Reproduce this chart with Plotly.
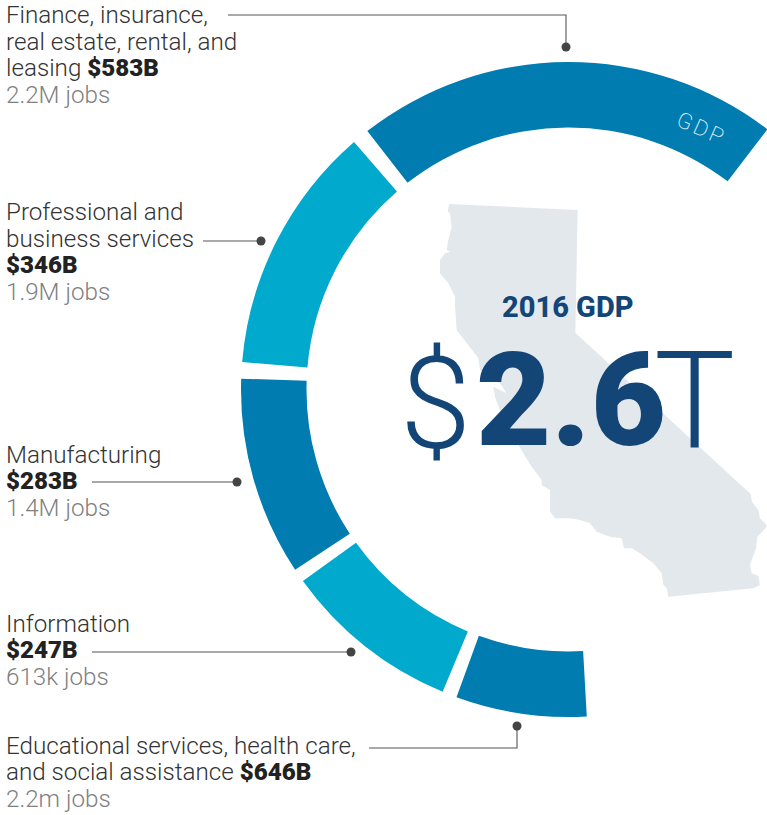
import numpy as np
import plotly.graph_objects as go

# ---- data ----
sector_names = ["Finance, insurance, real estate, rental, and leasing",
                "Educational services, health care, and social assistance",
                "Information", "Manufacturing", "Professional and business services"]
gdp_labels = ["$583B", "$646B", "$247B", "$283B", "$346B"]
jobs_labels = ["2.2M jobs", "2.2m jobs", "613k jobs", "1.4M jobs", "1.9M jobs"]
# drawn sweep of each ring segment, degrees
sweeps = [75.3, 23.2, 31.6, 35.3, 44.3]
gaps = [139.4, 2.6, 2.4, 2.9, 3.0]   # gap following each segment (clockwise)
colors = ["#017cb1", "#017cb1", "#01a9cc", "#017cb1", "#01a9cc"]
rotation_start = -37.9

ca_x = [147,533,526,1052,1056,1075,1080,1100,1097,1072,1068,1055,1050,1055,1075,1080,1060,805,800,790,785,760,720,695,672,665,630,590,570,540,510,465,450,450,425,425,395,370,345,310,285,280,320,300,275,240,235,170,165,165,145,120,120,135,150,140,145,155,150,143]
ca_y = [42,60,428,912,935,960,985,1005,1015,1040,1075,1110,1125,1150,1158,1185,1195,1220,1195,1185,1150,1120,1090,1075,1075,1045,1040,1025,1000,990,985,985,965,900,885,870,830,790,750,690,620,590,610,580,570,540,505,420,350,320,280,250,210,190,185,180,150,110,70,65]

W, H = 896, 815
CX, CY, R = 568.5, 389.5, 327.5
DARK = "#333333"
GREY = "#808080"
NAVY = "#134677"
FONT = "Roboto"

values, slice_colors = [], []
for s, g, c in zip(sweeps, gaps, colors):
    values += [s, g]
    slice_colors += [c, "rgba(0,0,0,0)"]

fig = go.Figure()

# California silhouette
fig.add_trace(go.Scatter(
    x=400 + np.array(ca_x) / 3, y=190 + np.array(ca_y) / 3,
    mode="lines", fill="toself", fillcolor="#e3e8ed",
    line=dict(color="#e3e8ed", width=0), hoverinfo="skip", showlegend=False))

# ring
fig.add_trace(go.Pie(
    values=values, sort=False, direction="clockwise", rotation=rotation_start,
    hole=262 / 327.5, textinfo="none", hoverinfo="skip", showlegend=False,
    marker=dict(colors=slice_colors, line=dict(width=0)),
    domain=dict(x=[(CX - R) / W, (CX + R) / W], y=[(H - CY - R) / H, (H - CY + R) / H])))

# leaders
leaders = [([228, 566, 566], [15, 15, 47]),
           ([203, 261], [241, 241]),
           ([92, 237], [482, 482]),
           ([92, 351], [652, 652]),
           ([369, 517, 517], [748, 748, 726])]
for lx, ly in leaders:
    fig.add_trace(go.Scatter(x=lx, y=ly, mode="lines", line=dict(color="#555555", width=1.1),
                             hoverinfo="skip", showlegend=False))
    fig.add_trace(go.Scatter(x=[lx[-1]], y=[ly[-1]], mode="markers",
                             marker=dict(color="#444444", size=9), hoverinfo="skip", showlegend=False))

def B(t):
    return f'<span style="font-weight:900;fill:#222222">{t}</span>'

lines = [
    (15, "Finance, insurance,", DARK), (42, "real estate, rental, and", DARK),
    (68, "leasing " + B(gdp_labels[0]), DARK), (95, jobs_labels[0], GREY),
    (212, "Professional and", DARK), (239, "business services", DARK),
    (265, B(gdp_labels[4]), DARK), (292, jobs_labels[4], GREY),
    (455, "Manufacturing", DARK), (481, B(gdp_labels[3]), DARK), (508, jobs_labels[3], GREY),
    (624, "Information", DARK), (650, B(gdp_labels[2]), DARK), (677, jobs_labels[2], GREY),
    (746, "Educational services, health care,", DARK),
    (772, "and social assistance " + B(gdp_labels[1]), DARK), (799, jobs_labels[1], GREY),
]
ann = []
for y, t, c in lines:
    ann.append(dict(x=6, y=y - 0.5, xref="x", yref="y", text=t, showarrow=False, xanchor="left", yanchor="middle",
                    align="left", xshift=-2, font=dict(family=FONT, size=24.2, color=c, weight=300)))

ann += [
    dict(x=701.5, y=128, text='<span style="letter-spacing:3px">GDP</span>', textangle=24,
         font=dict(family=FONT, size=22, color="#dfeef6", weight=200)),
    dict(x=567, y=307, text="2016 GDP", font=dict(family=FONT, size=29, color=NAVY, weight=800)),
    dict(x=435, y=404, text="$", font=dict(family=FONT, size=128, color=NAVY, weight=300)),
    dict(x=571, y=400, text="2.6", font=dict(family=FONT, size=130, color=NAVY, weight=900)),
    dict(x=694, y=400, text="T", font=dict(family=FONT, size=136, color=NAVY, weight=300)),
]
for a in ann[-5:]:
    a.update(xref="x", yref="y", showarrow=False, xanchor="center", yanchor="middle")

fig.update_layout(
    width=W, height=H, margin=dict(l=0, r=0, t=0, b=0), autosize=False,
    paper_bgcolor="white", plot_bgcolor="rgba(0,0,0,0)", annotations=ann, showlegend=False,
    xaxis=dict(range=[0, W], visible=False, domain=[0, 1], fixedrange=True),
    yaxis=dict(range=[H, 0], visible=False, domain=[0, 1], fixedrange=True),
)

fig.write_html("out.html", post_script=(
    "document.documentElement.style.overflow='hidden';"
    "document.body.style.margin='0';document.body.style.overflow='hidden';"))
